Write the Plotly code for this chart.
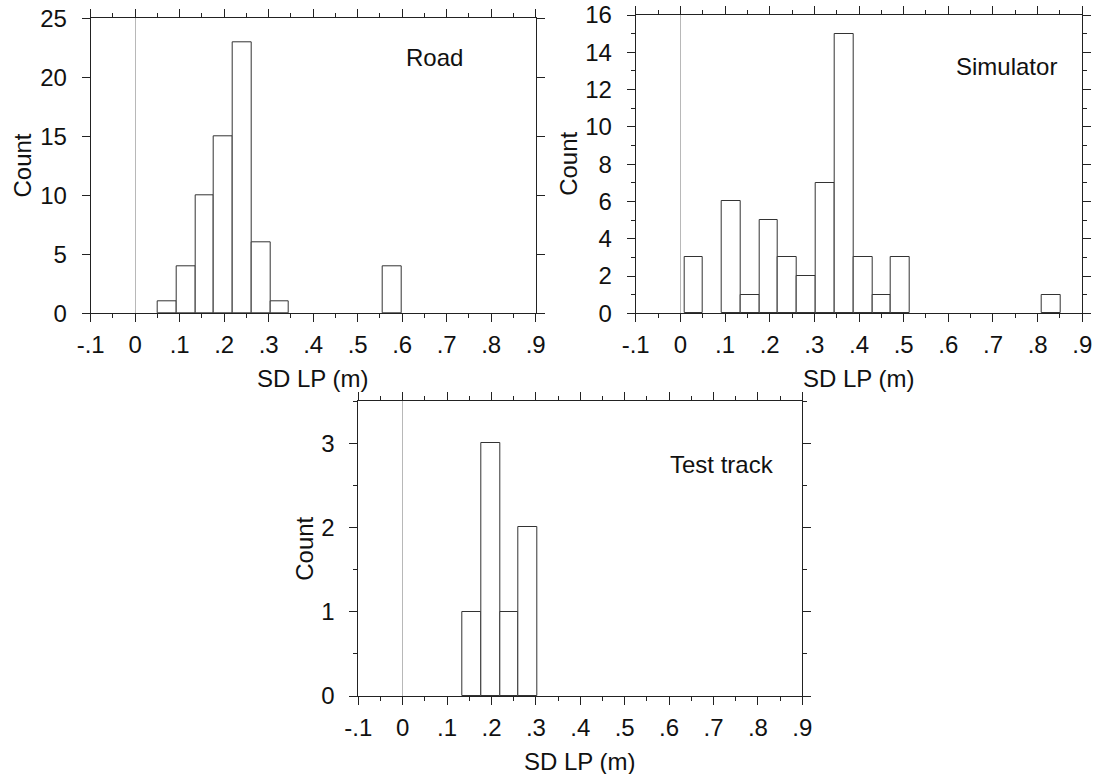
import plotly.graph_objects as go

# ---- data ----
bin_edges = [0.009, 0.051, 0.093, 0.135, 0.177, 0.219, 0.261, 0.304, 0.346, 0.388,
             0.430, 0.472, 0.514, 0.557, 0.599, 0.641, 0.683, 0.725, 0.768, 0.810, 0.852]
road_counts = [0, 1, 4, 10, 15, 23, 6, 1, 0, 0, 0, 0, 0, 4, 0, 0, 0, 0, 0, 0]
sim_counts = [3, 0, 6, 1, 5, 3, 2, 7, 15, 3, 1, 3, 0, 0, 0, 0, 0, 0, 0, 1]
test_counts = [0, 0, 0, 1, 3, 1, 2, 0, 0, 0, 0, 0, 0, 0, 0, 0, 0, 0, 0, 0]

x_tickvals = [-0.1, 0, 0.1, 0.2, 0.3, 0.4, 0.5, 0.6, 0.7, 0.8, 0.9]
x_ticktext = ["-.1", "0", ".1", ".2", ".3", ".4", ".5", ".6", ".7", ".8", ".9"]
panel_names = ["Road", "Simulator", "Test track"]
x_title = "SD LP (m)"
y_title = "Count"

centers = [(a + b) / 2 for a, b in zip(bin_edges[:-1], bin_edges[1:])]
widths = [b - a for a, b in zip(bin_edges[:-1], bin_edges[1:])]

W, H = 1096, 774
FONT = "Liberation Sans, Arial, Helvetica, sans-serif"
FS = 24
LINE = "#222"

# panel pixel boxes: left, right, top, bottom
boxes = [
    (90.7, 535.7, 18.3, 313.3),
    (635.7, 1082.3, 15.0, 313.3),
    (358.3, 802.3, 401.0, 696.0),
]
y_ranges = [(0, 25), (0, 16), (0, 3.5)]
y_dticks = [5, 2, 1]
y_minor = [None, 1, 0.5]
label_pos = [(435, 57), (1006, 67), (722, 465)]
ytitle_off = [68, 68, 54]

fig = go.Figure()
all_counts = [road_counts, sim_counts, test_counts]
for i, counts in enumerate(all_counts):
    sfx = "" if i == 0 else str(i + 1)
    keep = [k for k, c in enumerate(counts) if c > 0]
    fig.add_trace(go.Bar(
        x=[centers[k] for k in keep], y=[counts[k] for k in keep],
        width=[widths[k] for k in keep],
        marker=dict(color="white", line=dict(color="#333", width=1)),
        xaxis="x" + sfx, yaxis="y" + sfx, showlegend=False,
    ))
    l, r, t, b = boxes[i]
    xa = dict(
        domain=[l / W, r / W], range=[-0.1, 0.9], anchor="y" + sfx,
        tickmode="array", tickvals=x_tickvals, ticktext=x_ticktext,
        ticks="outside", ticklen=8, tickwidth=1, tickcolor=LINE,
        showline=True, linecolor=LINE, linewidth=1, mirror="ticks",
        showgrid=False, zeroline=True, zerolinecolor="#b8b8b8", zerolinewidth=1,
        tickfont=dict(family=FONT, size=FS, color="#111"),
        ticklabelstandoff=2,
        minor=dict(dtick=0.05, tick0=0, ticks="outside", ticklen=4, tickcolor=LINE, showgrid=False),
        automargin=False, fixedrange=True,
    )
    ya = dict(
        domain=[1 - b / H, 1 - t / H], range=list(y_ranges[i]), anchor="x" + sfx,
        dtick=y_dticks[i], tick0=0,
        ticks="outside", ticklen=8, tickwidth=1, tickcolor=LINE,
        showline=True, linecolor=LINE, linewidth=1, mirror="ticks",
        showgrid=False, zeroline=False,
        tickfont=dict(family=FONT, size=FS, color="#111"),
        ticklabelstandoff=10,
        automargin=False, fixedrange=True,
    )
    if y_minor[i] is not None:
        ya["minor"] = dict(dtick=y_minor[i], tick0=0, ticks="outside", ticklen=4,
                           tickcolor=LINE, showgrid=False)
    fig.layout["xaxis" + sfx] = xa
    fig.layout["yaxis" + sfx] = ya

    common = dict(xref="paper", yref="paper", showarrow=False,
                  xanchor="center", yanchor="middle",
                  font=dict(family=FONT, size=FS, color="#111"))
    # panel label
    fig.add_annotation(x=label_pos[i][0] / W, y=1 - label_pos[i][1] / H,
                       text=panel_names[i], **common)
    # axis titles
    fig.add_annotation(x=(l + r) / 2 / W, y=1 - (b + 65) / H, text=x_title, **common)
    fig.add_annotation(x=(l - ytitle_off[i]) / W, y=1 - (t + b) / 2 / H, text=y_title,
                       textangle=-90, **common)

fig.update_layout(
    width=W, height=H, margin=dict(l=0, r=0, t=0, b=0, autoexpand=False),
    paper_bgcolor="white", plot_bgcolor="white",
    bargap=0,
)

fig.write_html("out.html", config={"displayModeBar": False},
               post_script="document.body.style.margin='0';document.body.style.overflow='hidden';")
